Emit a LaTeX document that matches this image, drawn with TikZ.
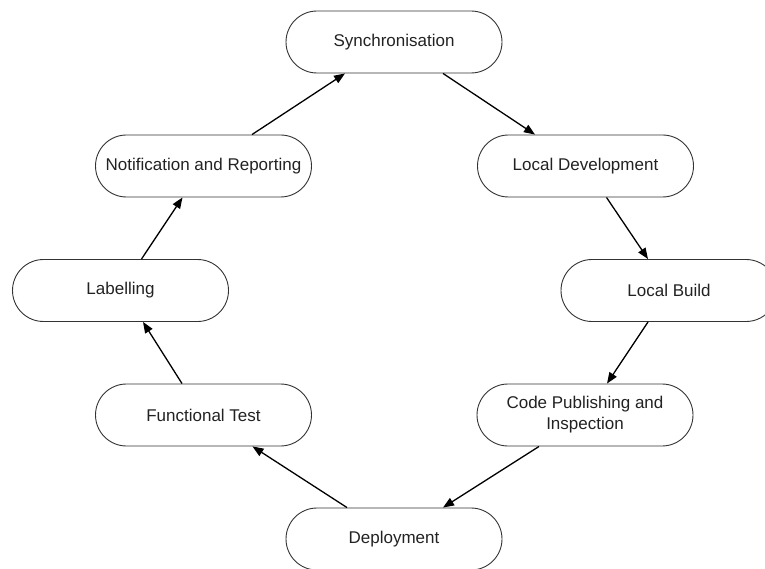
\documentclass[tikz,border=0pt]{standalone}
\usepackage{fontspec}
\setmainfont{Liberation Sans}
\usetikzlibrary{arrows.meta}
\definecolor{txt}{HTML}{222222}
\definecolor{edge}{HTML}{333333}
\begin{document}
\begin{tikzpicture}[x=1pt,y=-1pt,
  stage/.style={draw=edge,line width=0.9pt,rounded corners=31pt,minimum width=216pt,minimum height=62pt,
    inner sep=0pt,align=center,text=txt,font=\fontsize{17}{21}\selectfont},
  flow/.style={line width=1.3pt,-{Triangle[length=11pt,width=8.5pt]}}]
\useasboundingbox (0,0) rectangle (765,569);
\begin{scope}
\clip (0,0) rectangle (765,569);
\node[stage] (sync) at (394,42) {Synchronisation};
\node[stage] (ld) at (585.5,166) {Local Development};
\node[stage] (lb) at (669,290.5) {Local Build};
\node[stage] (cp) at (585,415) {Code Publishing and\\Inspection};
\node[stage] (dep) at (394,539) {Deployment};
\node[stage] (ft) at (203.5,415) {Functional Test};
\node[stage] (lab) at (120.5,290.5) {Labelling};
\node[stage] (nr) at (203.5,166) {Notification and Reporting};
\end{scope}
\draw[flow] ([xshift=48.5pt]nr.north) -- ([xshift=-49pt]sync.south);
\draw[flow] ([xshift=49pt]sync.south) -- ([xshift=-50.5pt]ld.north);
\draw[flow] ([xshift=21pt]ld.south) -- ([xshift=-21pt]lb.north);
\draw[flow] ([xshift=-21pt]lb.south) -- ([xshift=22pt]cp.north);
\draw[flow] ([xshift=-46pt]cp.south) -- ([xshift=49pt]dep.north);
\draw[flow] ([xshift=-47pt]dep.north) -- ([xshift=49pt]ft.south);
\draw[flow] ([xshift=-21.5pt]ft.north) -- ([xshift=22.5pt]lab.south);
\draw[flow] ([xshift=21pt]lab.north) -- ([xshift=-21pt]nr.south);
\end{tikzpicture}
\end{document}
